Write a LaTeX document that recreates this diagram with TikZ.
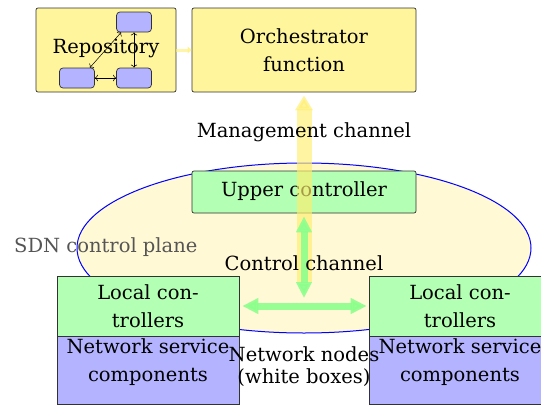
\documentclass[tikz,border=0pt]{standalone}
\usepackage{fontspec}
\setmainfont{DejaVu Serif}
\usetikzlibrary{arrows.meta,shapes.geometric}
\definecolor{boxyellow}{RGB}{255,245,157}
\definecolor{boxblue}{RGB}{179,179,255}
\definecolor{boxgreen}{RGB}{179,255,179}
\definecolor{planefill}{RGB}{255,249,214}
\definecolor{arrowgreen}{RGB}{140,255,140}
\definecolor{arrowyellow}{RGB}{255,238,110}
\definecolor{edgegray}{RGB}{50,50,50}
\definecolor{labelgray}{RGB}{85,85,85}
\begin{document}
\begin{tikzpicture}[x=1pt,y=-1pt,
  every node/.style={font=\fontsize{19.5}{22}\selectfont},
  box/.style={draw=edgegray, line width=0.7pt, rounded corners=2pt, inner sep=0pt, align=center},
  minibox/.style={draw=edgegray, line width=0.7pt, rounded corners=3.5pt, fill=boxblue, inner sep=0pt, minimum width=35pt, minimum height=20pt},
  txt/.style={inner sep=0pt, align=center},
  fatgreen/.style={draw=arrowgreen, line width=7pt, opacity=0.9, {Triangle[length=16pt,width=15pt]}-{Triangle[length=16pt,width=15pt]}},
  fatyellow/.style={draw=arrowyellow, line width=15pt, opacity=0.65, -{Triangle[length=15pt,width=17pt]}},
  thinarrow/.style={draw=black, line width=0.5pt, {To[length=3pt]}-{To[length=3pt]}}
]
\useasboundingbox (0,0) rectangle (541,405);

% control plane
\node[ellipse, draw=blue, line width=1pt, fill=planefill, minimum width=454pt, minimum height=170pt, inner sep=0pt] (plane) at (304,248) {};
\node[txt, text=labelgray, anchor=west] (sdn) at (14,247) {SDN control plane};

% repository
\node[box, fill=boxyellow, minimum width=140pt, minimum height=84pt] (repo) at (106,50) {};
\node[minibox] (b1) at (134,22) {};
\node[minibox] (b2) at (77,78) {};
\node[minibox] (b3) at (134,78) {};
\draw[thinarrow] (b1.south) -- (b3.north);
\draw[thinarrow] (b2.east) -- (b3.west);
\path (b1.south west) ++(5,0) coordinate (d1) (b2.north east) ++(-5,0) coordinate (d2);
\draw[thinarrow] (d1) -- (d2);
\node[txt] (repotext) at (106,48) {Repository};

% orchestrator
\node[box, fill=boxyellow, minimum width=224pt, minimum height=84pt] (orch) at (304,50) {Orchestrator\\[6pt]function};
\draw[draw=arrowyellow, line width=3pt, opacity=0.6, -{Triangle[length=4pt,width=7pt]}] (repo.east) -- (orch.west);

% upper controller
\node[box, fill=boxgreen, minimum width=224pt, minimum height=42pt] (upper) at (304,192) {};
\node[txt] (uppertext) at (304,191) {Upper controller};

% local controllers and network service components
\node[box, rounded corners=0pt, fill=boxgreen, minimum width=182pt, minimum height=60pt] (lc1) at (148,306) {Local con-\\[6pt]trollers};
\node[box, rounded corners=0pt, fill=boxblue, minimum width=182pt, minimum height=68pt] (ns1) at (148,370) {};
\node[txt] (ns1text) at (148,362) {Network service\\[6pt]components};
\node[box, rounded corners=0pt, fill=boxgreen, minimum width=182pt, minimum height=60pt] (lc2) at (460,306) {Local con-\\[6pt]trollers};
\node[box, rounded corners=0pt, fill=boxblue, minimum width=182pt, minimum height=68pt] (ns2) at (460,370) {};
\node[txt] (ns2text) at (460,362) {Network service\\[6pt]components};

% channels
\coordinate (ybot) at (304,282);
\coordinate (gbot) at (304,298);
\draw[fatyellow, shorten >=3pt] (ybot) -- (orch.south);
\draw[fatgreen, shorten <=3pt] (upper.south) -- (gbot);
\draw[fatgreen, shorten <=3pt, shorten >=2pt] (lc1.east) -- (lc2.west);

\node[txt] (mgmt) at (304,132) {Management channel};
\node[txt] (ctrl) at (304,263) {Control channel};
\node[txt] (nodes) at (304,367) {Network nodes\\(white boxes)};
\end{tikzpicture}
\end{document}
